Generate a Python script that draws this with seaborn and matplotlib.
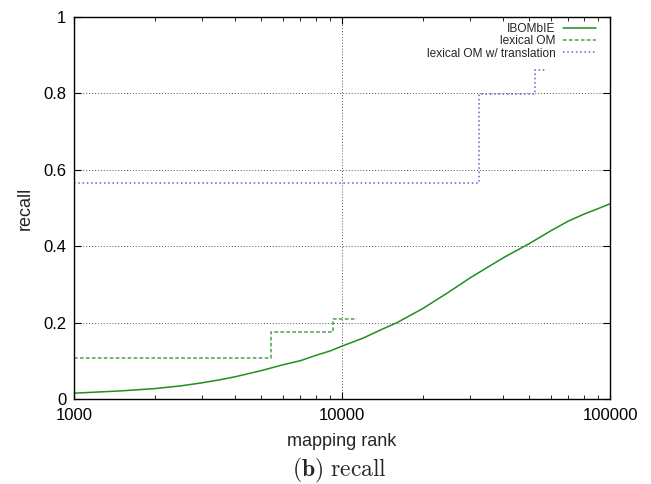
import numpy as np
import pandas as pd
import matplotlib
matplotlib.use("Agg")
import matplotlib.pyplot as plt
import matplotlib.ticker as mticker
import seaborn as sns

# recall vs mapping rank
rank_ibombie = [1000, 1500, 2000, 2500, 3000, 3500, 4000, 5000, 6000, 7000,
                8000, 9000, 10000, 12000, 14000, 16000, 20000, 25000, 30000,
                40000, 50000, 60000, 70000, 80000, 90000, 100000]
recall_ibombie = [0.016, 0.022, 0.028, 0.035, 0.043, 0.051, 0.059, 0.075, 0.090, 0.101,
                  0.115, 0.126, 0.139, 0.160, 0.182, 0.200, 0.237, 0.280, 0.317,
                  0.370, 0.407, 0.440, 0.466, 0.484, 0.498, 0.511]

rank_lexical = [1000, 5430, 9230, 11360]
recall_lexical = [0.109, 0.176, 0.2105, 0.2105]

rank_trans = [1000, 32400, 52300, 58000]
recall_trans = [0.565, 0.799, 0.861, 0.861]

labels = ["IBOMbIE", "lexical OM", "lexical OM w/ translation"]
colors = ["#1f8f1f", "#4aa04a", "#5566cc"]

sns.set_theme(style="ticks")
plt.rcParams['font.family'] = ['Liberation Sans', 'DejaVu Sans']

fig = plt.figure(figsize=(6.51, 4.84), dpi=100)
ax = fig.add_axes([74 / 651, 1 - 399.3 / 484, 536 / 651, 382.6 / 484])

df1 = pd.DataFrame({"rank": rank_ibombie, "recall": recall_ibombie})
df2 = pd.DataFrame({"rank": rank_lexical, "recall": recall_lexical})
df3 = pd.DataFrame({"rank": rank_trans, "recall": recall_trans})

sns.lineplot(data=df1, x="rank", y="recall", ax=ax, color=colors[0], lw=1.1,
             label=labels[0])
sns.lineplot(data=df2, x="rank", y="recall", ax=ax, color=colors[1], lw=1.1,
             drawstyle="steps-post", linestyle=(0, (2.4, 1.5)), label=labels[1])
sns.lineplot(data=df3, x="rank", y="recall", ax=ax, color=colors[2], lw=1.1,
             drawstyle="steps-post", linestyle=(0, (1, 1.8)), label=labels[2])

ax.set_xscale("log")
ax.set_xlim(1000, 100000)
ax.set_ylim(0, 1)
ax.set_xticks([1000, 10000, 100000])
ax.xaxis.set_major_formatter(mticker.FuncFormatter(lambda v, p: f"{int(v)}"))
ax.xaxis.set_minor_formatter(mticker.NullFormatter())
ax.set_yticks([0, 0.2, 0.4, 0.6, 0.8, 1.0])
ax.yaxis.set_major_formatter(mticker.FuncFormatter(lambda v, p: f"{v:g}"))

ax.tick_params(which="both", direction="in", top=True, right=True, colors="black",
               labelsize=12)
ax.tick_params(which="major", length=5, width=0.8)
ax.tick_params(which="minor", length=3, width=0.6)
ax.tick_params(axis="x", which="major", pad=6)
ax.tick_params(axis="y", which="major", pad=5.5)
for s in ax.spines.values():
    s.set_color("black")
    s.set_linewidth(1.0)

ax.grid(True, which="major", color="#555555", linestyle=(0, (1, 2)), lw=0.7)

ax.set_xlabel("mapping rank", fontsize=13)
ax.xaxis.set_label_coords(0.5, -(441 - 399.3) / 382.6)
ax.xaxis.label.set_va("center")
ax.set_ylabel("recall", fontsize=13)
ax.yaxis.set_label_coords(-(74 - 25) / 536, 0.5)
ax.yaxis.label.set_va("center")

leg = ax.legend(loc="upper right", bbox_to_anchor=(522 / 536, 0.984),
                frameon=False, markerfirst=False, fontsize=8.6,
                handlelength=2.8, handletextpad=0.6, labelspacing=0.03,
                borderpad=0, borderaxespad=0)

fig.text(339 / 651, 1 - 476 / 484, r"$\mathbf{(b)}\ \mathrm{recall}$",
         ha="center", va="baseline", fontsize=17, math_fontfamily="cm")

fig.savefig("out.png", dpi=100)
